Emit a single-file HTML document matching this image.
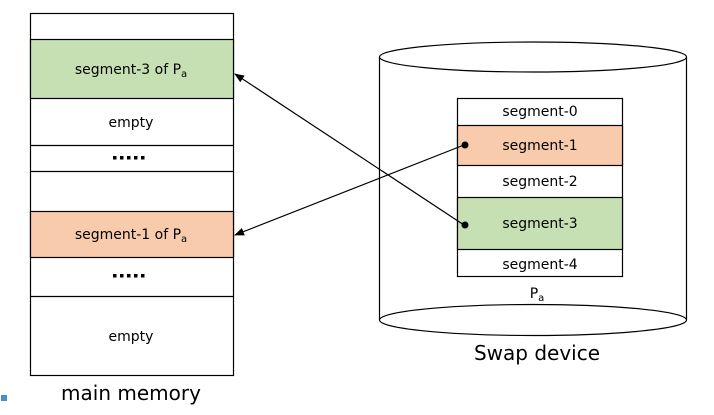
<!DOCTYPE html>
<html><head><style>
body{margin:0;background:#fff;}
svg text{font-family:"DejaVu Sans","Liberation Sans",sans-serif;}
</style></head><body>
<svg width="714" height="410" xmlns="http://www.w3.org/2000/svg">
<defs><marker id="ah" markerWidth="10" markerHeight="8" refX="9" refY="4" orient="auto" markerUnits="userSpaceOnUse"><path d="M0,0 L10,4 L0,8 Z" fill="#000"/></marker></defs>
<g stroke="#000" stroke-width="1.2">
<rect x="30.5" y="13.5" width="203" height="362" fill="#fff"/>
<rect x="30.5" y="39.5" width="203" height="59" fill="#c6e0b4"/>
<rect x="30.5" y="211.5" width="203" height="46" fill="#f8cbad"/>
<line x1="30" y1="145.5" x2="233" y2="145.5"/>
<line x1="30" y1="171.5" x2="233" y2="171.5"/>
<line x1="30" y1="296.5" x2="233" y2="296.5"/>
<line x1="379.5" y1="57" x2="379.5" y2="320"/>
<line x1="686.5" y1="57" x2="686.5" y2="320"/>
<ellipse cx="533" cy="57" rx="153.5" ry="15" fill="#fff"/>
<ellipse cx="533" cy="320" rx="153.5" ry="15.5" fill="#fff"/>
<rect x="457.5" y="98.5" width="165" height="178" fill="#fff"/>
<rect x="457.5" y="125.5" width="165" height="40" fill="#f8cbad"/>
<rect x="457.5" y="197.5" width="165" height="52" fill="#c6e0b4"/>
<line x1="464" y1="225" x2="235" y2="74" marker-end="url(#ah)"/>
<line x1="464" y1="145" x2="235" y2="235" marker-end="url(#ah)"/>
</g>
<circle cx="465" cy="225" r="3.5"/>
<circle cx="465" cy="145" r="3.5"/>
<g fill="#000">
<rect x="113" y="156" width="3.5" height="3.5"/><rect x="120" y="156" width="3.5" height="3.5"/><rect x="127" y="156" width="3.5" height="3.5"/><rect x="134" y="156" width="3.5" height="3.5"/><rect x="141" y="156" width="3.5" height="3.5"/>
<rect x="113" y="274" width="3.5" height="3.5"/><rect x="120" y="274" width="3.5" height="3.5"/><rect x="127" y="274" width="3.5" height="3.5"/><rect x="134" y="274" width="3.5" height="3.5"/><rect x="141" y="274" width="3.5" height="3.5"/>
</g>
<g font-size="14" text-anchor="middle" fill="#000">
<text x="131" y="74">segment-3 of P<tspan font-size="10" dy="3">a</tspan></text>
<text x="131" y="127">empty</text>
<text x="131" y="239">segment-1 of P<tspan font-size="10" dy="3">a</tspan></text>
<text x="131" y="341">empty</text>
<text x="540" y="116">segment-0</text>
<text x="540" y="150">segment-1</text>
<text x="540" y="186">segment-2</text>
<text x="540" y="228">segment-3</text>
<text x="540" y="269">segment-4</text>
<text x="537" y="298">P<tspan font-size="10" dy="3">a</tspan></text>
<text x="537" y="360" font-size="20">Swap device</text>
<text x="131" y="400" font-size="20">main memory</text>
</g>
<rect x="1" y="395" width="6" height="6" fill="#4a90c8"/>
</svg>
</body></html>
